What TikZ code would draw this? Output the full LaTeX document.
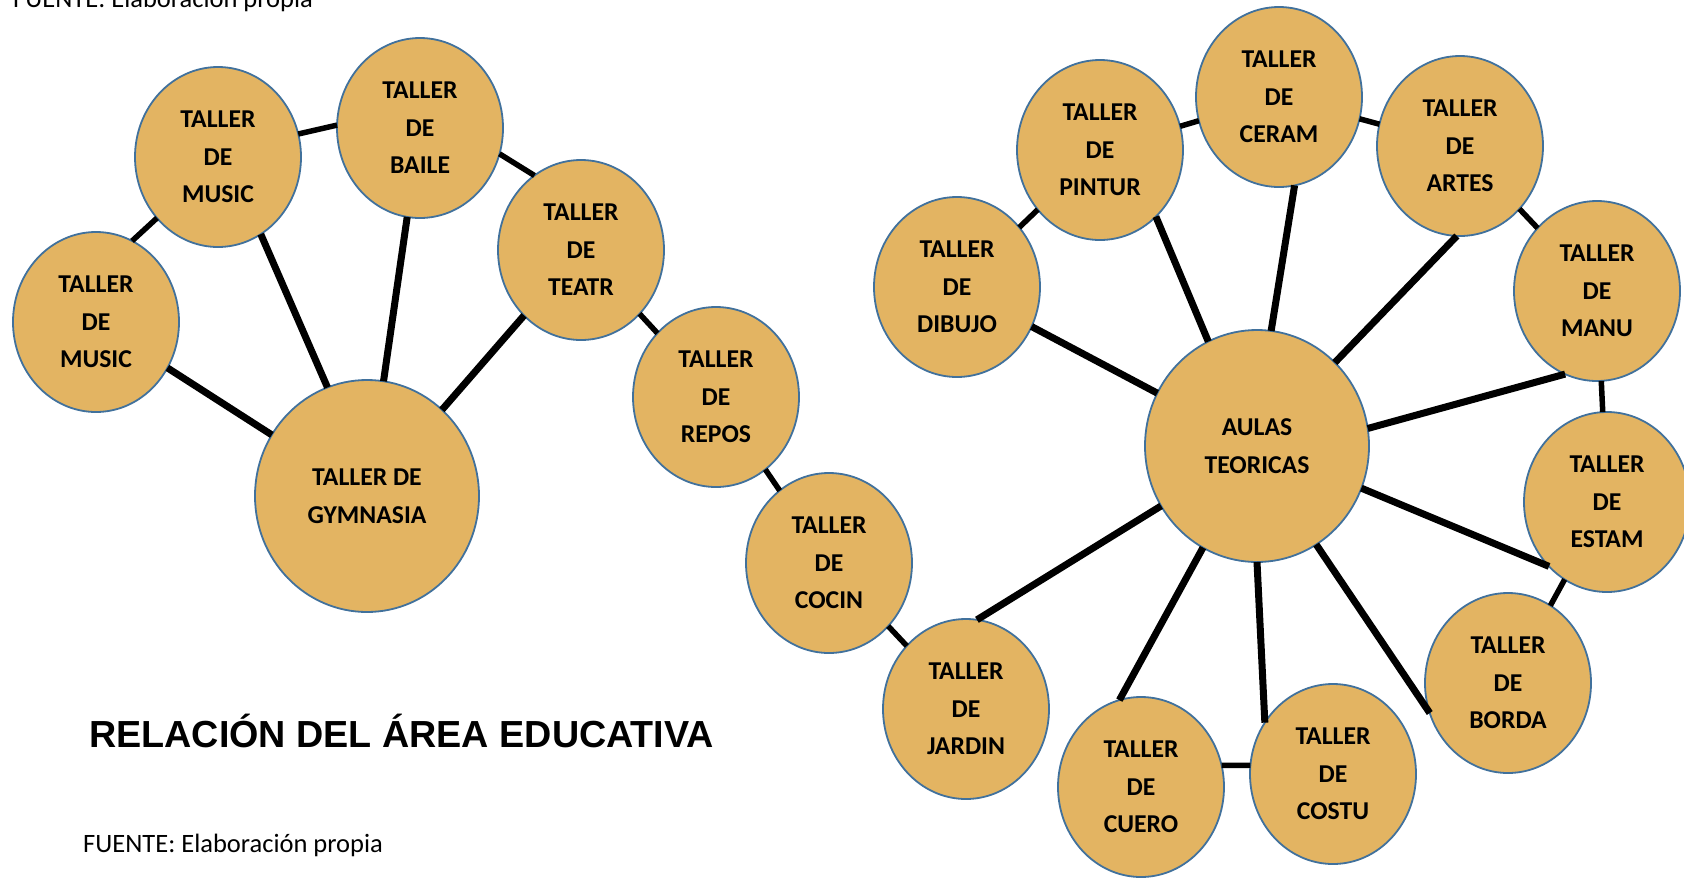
\documentclass[tikz,border=0pt]{standalone}
\usepackage{fontspec}
\setmainfont{Carlito}
\newfontfamily\titlefont{Liberation Sans}
\definecolor{TallerGold}{HTML}{E3B462}
\definecolor{TallerBlue}{HTML}{41719C}
\usepackage{tikz}
\usetikzlibrary{shapes.geometric}

\begin{document}
\begin{tikzpicture}[x=1pt, y=-1pt,
  taller/.style={ellipse, draw=TallerBlue, line width=1.8pt, fill=TallerGold,
    minimum width=166pt, minimum height=180pt, inner sep=0pt, outer sep=0pt,
    align=center, font=\bfseries\fontsize{25.7}{37.5}\selectfont},
  aula/.style={taller, minimum width=224pt, minimum height=232pt},
  spoke/.style={line width=7pt},
  link/.style={line width=5.5pt}]
  \useasboundingbox (0,0) rectangle (1684,879);

  % talleres del lado izquierdo
  \node[taller] (music1) at (96,322) {TALLER\\DE\\MUSIC};
  \node[taller] (music2) at (218,157) {TALLER\\DE\\MUSIC};
  \node[taller] (baile) at (420,128) {TALLER\\DE\\BAILE};
  \node[taller] (teatr) at (581,250) {TALLER\\DE\\TEATR};
  \node[taller] (repos) at (716,397) {TALLER\\DE\\REPOS};
  \node[taller] (cocin) at (829,563) {TALLER\\DE\\COCIN};
  \node[taller] (jardin) at (966,709) {TALLER\\DE\\JARDIN};
  \node[aula] (gymnasia) at (367,496) {TALLER DE\\GYMNASIA};

  % talleres alrededor de las aulas
  \node[taller] (dibujo) at (957,287) {TALLER\\DE\\DIBUJO};
  \node[taller] (pintur) at (1100,150) {TALLER\\DE\\PINTUR};
  \node[taller] (ceram) at (1279,97) {TALLER\\DE\\CERAM};
  \node[taller] (artes) at (1460,146) {TALLER\\DE\\ARTES};
  \node[taller] (manu) at (1597,291) {TALLER\\DE\\MANU};
  \node[taller] (estam) at (1607,502) {TALLER\\DE\\ESTAM};
  \node[taller] (borda) at (1508,683) {TALLER\\DE\\BORDA};
  \node[taller] (costu) at (1333,774) {TALLER\\DE\\COSTU};
  \node[taller] (cuero) at (1141,787) {TALLER\\DE\\CUERO};
  \node[aula] (aulas) at (1257,446) {AULAS\\TEORICAS};

  \node[anchor=base west, inner sep=0pt,
        font=\titlefont\bfseries\fontsize{37.7}{44}\selectfont] (title) at (89,747)
    {RELACIÓN DEL ÁREA EDUCATIVA};
  \node[anchor=base west, inner sep=0pt, font=\fontsize{26.5}{31}\selectfont]
    (fuente) at (83,852) {FUENTE: Elaboración propia};
  \node[anchor=base west, inner sep=0pt, font=\fontsize{26.5}{31}\selectfont]
    (fuentetop) at (13,7) {FUENTE: Elaboración propia};

  \draw[link] (music1.66) -- (music2.225);
  \draw[link] (music2.16) -- (baile.178);
  \draw[link] (baile.-18) -- (teatr.122);
  \draw[link] (teatr) -- (repos);
  \draw[link] (repos) -- (cocin);
  \draw[link] (cocin) -- (jardin);
  \draw[spoke] (gymnasia) -- (music1);
  \draw[spoke] (gymnasia.110) -- (music2.-61);
  \draw[spoke] (gymnasia) -- (baile);
  \draw[spoke] (gymnasia) -- (teatr);

  \draw[link] (dibujo) -- (pintur);
  \draw[link] (pintur) -- (ceram);
  \draw[link] (ceram) -- (artes);
  \draw[link] (artes) -- (manu);
  \draw[link] (manu) -- (estam);
  \draw[link] (estam) -- (borda);
  \draw[link] (cuero.15) -- (costu.174);
  \draw[spoke] (aulas) -- (dibujo);
  \draw[spoke] (aulas.115) -- (pintur.-50);
  \draw[spoke] (aulas.83) -- (ceram.-80);
  \draw[spoke] (aulas.47) -- (artes.-92);
  \draw[spoke] (aulas.9) -- (manu.249);
  \draw[spoke] (aulas.-22) -- (estam.228);
  \draw[spoke] (aulas.-59) -- (borda.201);
  \draw[spoke] (aulas.-90) -- (costu.143);
  \draw[spoke] (aulas.-118) -- (cuero.104);
  \draw[spoke] (aulas.212) -- (jardin.83);
\end{tikzpicture}
\end{document}
